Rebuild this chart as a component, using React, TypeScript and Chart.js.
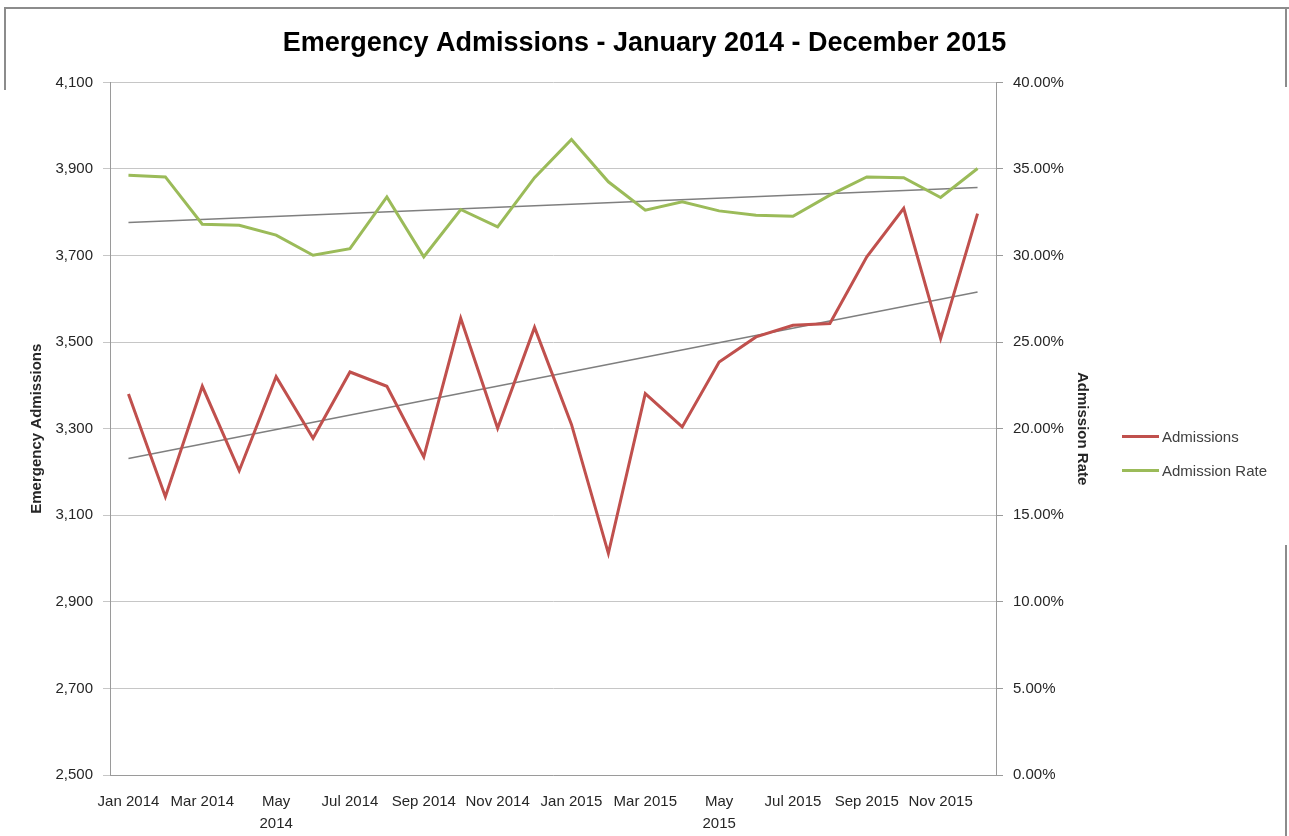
import React, { useEffect, useRef } from "react";
import { Chart, registerables } from "chart.js";

Chart.register(...registerables);

const months = [
  "Jan 2014", "Feb 2014", "Mar 2014", "Apr 2014", "May 2014", "Jun 2014",
  "Jul 2014", "Aug 2014", "Sep 2014", "Oct 2014", "Nov 2014", "Dec 2014",
  "Jan 2015", "Feb 2015", "Mar 2015", "Apr 2015", "May 2015", "Jun 2015",
  "Jul 2015", "Aug 2015", "Sep 2015", "Oct 2015", "Nov 2015", "Dec 2015",
];

const admissions = [
  3380, 3143, 3398, 3203, 3420, 3278, 3431, 3398, 3235, 3555, 3301, 3534,
  3310, 3012, 3381, 3304, 3454, 3512, 3539, 3543, 3697, 3809, 3508, 3797,
];

const admissionRate = [
  34.64, 34.54, 31.81, 31.75, 31.18, 30.02, 30.4, 33.39, 29.93, 32.66, 31.66, 34.5,
  36.7, 34.26, 32.62, 33.1, 32.58, 32.33, 32.27, 33.49, 34.54, 34.5, 33.35, 35.03,
];

// linear trend line end values (first month, last month)
const admissionsTrendEnds = [3231, 3616];
const admissionRateTrendEnds = [31.91, 33.93];

const leftTicks = [2500, 4100, 200];
const rightTicks = [0, 40, 5];

const FONT = "'Liberation Sans', Arial, sans-serif";
const RED = "#c0504d";
const GREEN = "#9bbb59";
const TREND = "#7f7f7f";

function trendSeries(ends: number[]) {
  const arr: (number | null)[] = months.map(() => null);
  arr[0] = ends[0];
  arr[months.length - 1] = ends[1];
  return arr;
}

export default function App() {
  const ref = useRef<HTMLCanvasElement | null>(null);

  useEffect(() => {
    if (!ref.current) return;
    const chart = new Chart(ref.current, {
      type: "line",
      data: {
        labels: months,
        datasets: [
          {
            label: "Admissions",
            data: admissions,
            yAxisID: "y",
            borderColor: RED,
            backgroundColor: RED,
            borderWidth: 3,
            pointRadius: 0,
            tension: 0,
          },
          {
            label: "Admission Rate",
            data: admissionRate,
            yAxisID: "y1",
            borderColor: GREEN,
            backgroundColor: GREEN,
            borderWidth: 3,
            pointRadius: 0,
            tension: 0,
          },
          {
            label: "Linear (Admissions)",
            data: trendSeries(admissionsTrendEnds),
            yAxisID: "y",
            borderColor: TREND,
            borderWidth: 1.5,
            pointRadius: 0,
            spanGaps: true,
          },
          {
            label: "Linear (Admission Rate)",
            data: trendSeries(admissionRateTrendEnds),
            yAxisID: "y1",
            borderColor: TREND,
            borderWidth: 1.5,
            pointRadius: 0,
            spanGaps: true,
          },
        ],
      },
      options: {
        responsive: false,
        animation: false,
        layout: { padding: { left: 0, right: 0, top: 0, bottom: 0 } },
        plugins: {
          legend: { display: false },
          tooltip: { enabled: false },
          title: {
            display: true,
            text: "Emergency Admissions - January 2014 - December 2015",
            color: "#000",
            font: { family: FONT, size: 27, weight: "bold" },
            padding: { top: 27, bottom: 23 },
          },
        },
        scales: {
          x: {
            type: "category",
            offset: true,
            grid: { display: false, drawTicks: false },
            border: { display: true, color: "#9a9a9a", width: 1 },
            ticks: {
              autoSkip: false,
              maxRotation: 0,
              minRotation: 0,
              padding: 16,
              color: "#262626",
              font: { family: FONT, size: 15, lineHeight: 1.45 },
              callback: function (this: any, value: any, index: number) {
                if (index % 2 !== 0) return "";
                const lab = months[index];
                return lab.startsWith("May") ? lab.split(" ") : lab;
              },
            },
            afterFit: (s: any) => {
              s.height = 61;
            },
          },
          y: {
            position: "left",
            min: leftTicks[0],
            max: leftTicks[1],
            ticks: {
              stepSize: leftTicks[2],
              padding: 10,
              color: "#262626",
              font: { family: FONT, size: 15 },
              callback: (v: any) => Number(v).toLocaleString("en-US"),
            },
            grid: { color: "#c6c6c6", lineWidth: 1, tickLength: 7, drawTicks: true },
            border: { display: true, color: "#9a9a9a", width: 1 },
            title: {
              display: true,
              text: "Emergency Admissions",
              color: "#262626",
              font: { family: FONT, size: 15, weight: "bold" },
              padding: { top: 28, bottom: 0 },
            },
            afterFit: (s: any) => {
              s.width = 110;
            },
          },
          y1: {
            position: "right",
            min: rightTicks[0],
            max: rightTicks[1],
            ticks: {
              stepSize: rightTicks[2],
              padding: 10,
              color: "#262626",
              font: { family: FONT, size: 15 },
              callback: (v: any) => Number(v).toFixed(2) + "%",
            },
            grid: { drawOnChartArea: false, color: "#9a9a9a", tickLength: 7, drawTicks: true },
            border: { display: true, color: "#9a9a9a", width: 1 },
            title: {
              display: true,
              text: "Admission Rate",
              color: "#262626",
              font: { family: FONT, size: 15, weight: "bold" },
              padding: { top: 198, bottom: 0 },
            },
            afterFit: (s: any) => {
              s.width = 293;
            },
          },
        },
      },
    });
    return () => chart.destroy();
  }, []);

  const legendItems = [
    { label: "Admissions", color: RED, top: 436 },
    { label: "Admission Rate", color: GREEN, top: 470 },
  ];

  return (
    <div
      style={{
        position: "fixed",
        left: 0,
        top: 0,
        width: 1289,
        height: 836,
        background: "#fff",
        overflow: "hidden",
      }}
    >
      <canvas ref={ref} width={1289} height={836} style={{ position: "absolute", left: 0, top: 0 }} />
      {/* outer frame fragments */}
      <div style={{ position: "absolute", left: 5, top: 7, width: 1284, height: 0, borderTop: "2px solid #8c8c8c" }} />
      <div style={{ position: "absolute", left: 4, top: 7, width: 0, height: 83, borderLeft: "2px solid #8c8c8c" }} />
      <div style={{ position: "absolute", left: 1285, top: 7, width: 0, height: 80, borderLeft: "2px solid #8c8c8c" }} />
      <div style={{ position: "absolute", left: 1285, top: 545, width: 0, height: 291, borderLeft: "2px solid #8c8c8c" }} />
      {legendItems.map((it) => (
        <div
          key={it.label}
          style={{
            position: "absolute",
            left: 1122,
            top: it.top - 10,
            height: 20,
            display: "flex",
            alignItems: "center",
            fontFamily: FONT,
            fontSize: 15,
            color: "#404040",
            whiteSpace: "nowrap",
          }}
        >
          <span style={{ display: "inline-block", width: 37, height: 3, background: it.color, marginRight: 3 }} />
          <span>{it.label}</span>
        </div>
      ))}
    </div>
  );
}
